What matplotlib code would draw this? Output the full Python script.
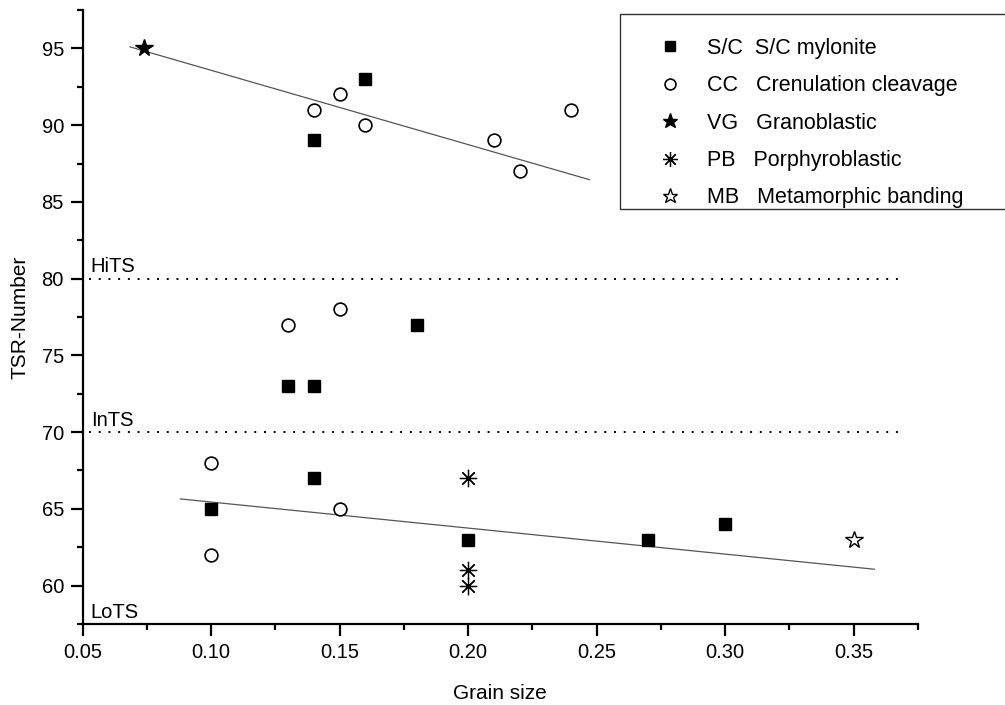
import matplotlib
matplotlib.use("Agg")
import matplotlib.pyplot as plt
from matplotlib.patches import Rectangle
from matplotlib.ticker import MultipleLocator

plt.rcParams['font.family'] = ['Liberation Sans', 'DejaVu Sans']

# grain size / TSR number per fabric type
sc_x = [0.14, 0.16, 0.13, 0.14, 0.18, 0.10, 0.14, 0.20, 0.27, 0.30]
sc_y = [89, 93, 73, 73, 77, 65, 67, 63, 63, 64]
cc_x = [0.14, 0.15, 0.16, 0.21, 0.22, 0.24, 0.13, 0.15, 0.10, 0.10, 0.15]
cc_y = [91, 92, 90, 89, 87, 91, 77, 78, 68, 62, 65]
vg_x = [0.074]
vg_y = [95]
pb_x = [0.20, 0.20, 0.20]
pb_y = [67, 61, 60]
mb_x = [0.35]
mb_y = [63]

# linear fits (intercept, slope, x range)
hi_fit = (98.41, -48.4, 0.0684, 0.2471)
lo_fit = (67.14, -16.96, 0.088, 0.358)

# class boundaries
bounds = [80, 70]
bound_labels = ["HiTS", "InTS", "LoTS"]
label_y = [80.45, 70.41, 57.9]

fig = plt.figure(figsize=(10.05, 7.05), dpi=100)
ax = fig.add_axes([0.0823, 0.1149, 0.8311, 0.8709])

for b in bounds:
    ax.hlines(b, 0.0525, 0.370, colors='black', linestyles=(0, (1, 4)), linewidth=1.4)
for lab, yy in zip(bound_labels, label_y):
    ax.text(0.0531, yy, lab, fontsize=14.5, va='baseline', ha='left')

for a, k, x0, x1 in (hi_fit, lo_fit):
    ax.plot([x0, x1], [a + k * x0, a + k * x1], color='#555555', linewidth=0.9)

ax.plot(sc_x, sc_y, 's', color='black', markersize=8.6, linestyle='none',
        label="S/C  S/C mylonite")
ax.plot(cc_x, cc_y, 'o', markerfacecolor='white', markeredgecolor='black',
        markeredgewidth=1.2, markersize=9.2, linestyle='none',
        label="CC   Crenulation cleavage")
ax.plot(vg_x, vg_y, '*', color='black', markersize=13, linestyle='none',
        label="VG   Granoblastic")
ax.plot(pb_x, pb_y, marker=(8, 2, 0), color='black', markersize=12.5,
        markeredgewidth=0.9, linestyle='none', label="PB   Porphyroblastic")
ax.plot(mb_x, mb_y, '*', markerfacecolor='white', markeredgecolor='black',
        markeredgewidth=1.0, markersize=13, linestyle='none',
        label="MB   Metamorphic banding")

ax.set_xlim(0.05, 0.375)
ax.set_ylim(57.5, 97.5)
ax.xaxis.set_minor_locator(MultipleLocator(0.025))
ax.yaxis.set_minor_locator(MultipleLocator(2.5))
ax.set_xticks([0.05, 0.10, 0.15, 0.20, 0.25, 0.30, 0.35])
ax.set_xticklabels(["0.05", "0.10", "0.15", "0.20", "0.25", "0.30", "0.35"])
ax.set_yticks([60, 65, 70, 75, 80, 85, 90, 95])

for s in ('top', 'right'):
    ax.spines[s].set_visible(False)
for s in ('left', 'bottom'):
    ax.spines[s].set_linewidth(1.6)
ax.tick_params(which='major', direction='out', length=8.5, width=1.6, labelsize=14.5, pad=5)
ax.tick_params(which='minor', direction='out', length=4.5, width=1.6)

ax.set_xlabel("Grain size", fontsize=15, labelpad=16)
ax.set_ylabel("TSR-Number", fontsize=15, labelpad=9)

# legend box drawn by hand so its padding can differ top and bottom
ax.add_patch(Rectangle((620 / 1005, 1 - 209 / 705), 400 / 1005, 195 / 705,
                       transform=fig.transFigure, facecolor='white',
                       edgecolor='#333333', linewidth=1.0, zorder=4.5,
                       clip_on=False))
leg = ax.legend(loc='upper left', bbox_to_anchor=(655 / 1005, 1 - 38 / 705),
                bbox_transform=fig.transFigure, borderaxespad=0, borderpad=0,
                fontsize=15.5, frameon=False, markerscale=0.85,
                handlelength=1.4, handletextpad=1.0, labelspacing=0.76)

fig.savefig("out.png", dpi=100)
